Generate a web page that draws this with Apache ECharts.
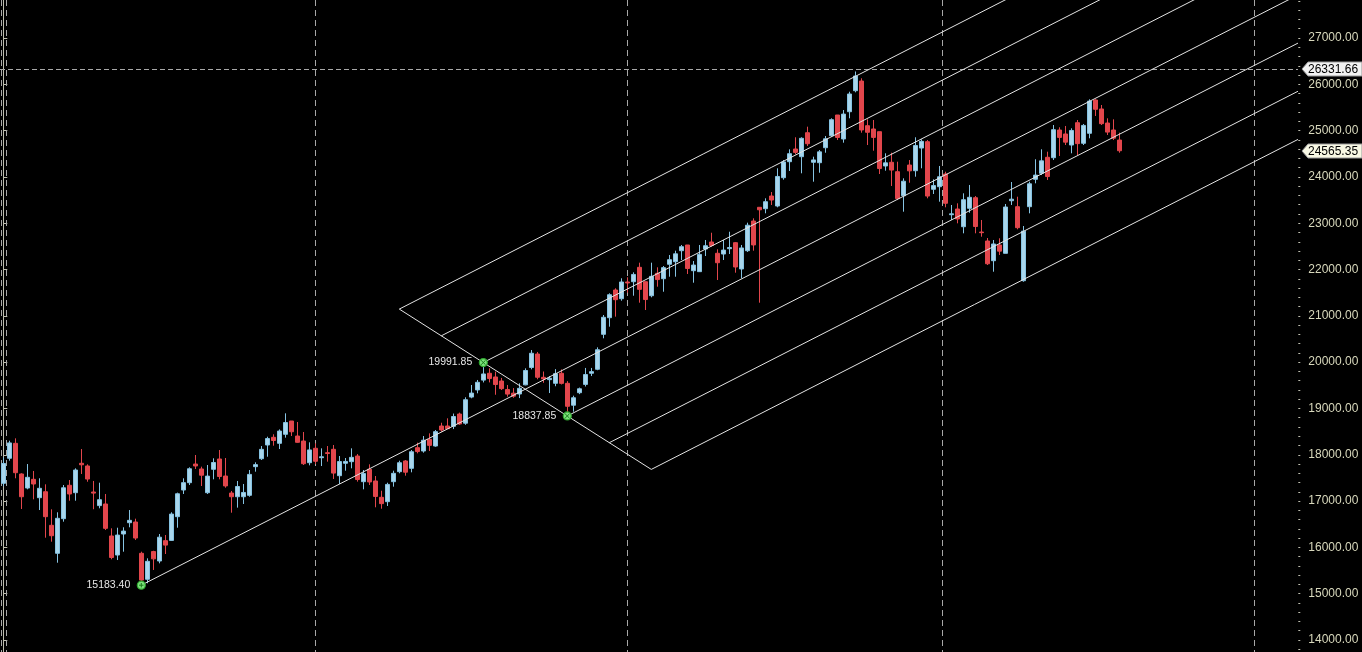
<!DOCTYPE html>
<html><head><meta charset="utf-8">
<script src="https://cdn.jsdelivr.net/npm/echarts@6/dist/echarts.min.js"></script>
<style>html,body{margin:0;padding:0;background:#000;overflow:hidden}#c{width:1362px;height:652px}</style>
</head><body><div id="c"></div>
<script>
// ---- weekly OHLC (NIFTY-like index), one entry per week starting 2022-01-07 ----
const opens = [17384,17924,18247,17585,17282,17470,17073,17202,16477,15872,16620,17341,17181,17816,17758,17196,16902,16937,16246,15835,16289,16533,16548,15872,15311,15910,15706,16145,16151,16663,17239,17397,17800,17693,17181,17686,17909,17541,17174,17094,17094,17124,17743,17915,18211,18377,18247,18442,18729,18405,18297,17829,18140,17937,18045,18118,17548,17816,17851,17973,17419,17686,17434,17081,16987,17419,17635,17866,17707,18153,18081,18333,18189,18621,18621,18614,18880,18682,19246,19400,19612,19760,19680,19593,19410,19330,19312,19510,19885,20176,19673,19622,19543,19760,19543,19070,19340,19520,19760,19846,20601,20960,21558,21370,21731,21737,22048,21737,21435,21919,21802,22113,22169,22407,22530,21975,21954,22443,22595,22351,22335,22450,22580,22012,22407,23048,23344,23314,23588,23372,23983,24329,24603,24437,24955,24316,24307,24631,24890,25337,24819,25408,25862,26071,25106,25035,24977,24236,24316,24113,23594,24257,24134,24624,24761,23733,23789,24063,23184,23307,22925,23322,23551,22810,22616,22191,22530,22350,23486,23357,21759,23357,23949,24078,24424,24415,25013,24927,24689,25171,24726,24942,25661,25467,25164,25013,24797];
const highs = [17945,18304,18355,17600,17800,17650,17492,17362,16822,16758,17347,17455,17707,18124,17794,17434,17397,17153,16412,16425,16434,16807,16620,15907,15764,15927,16289,16267,16758,17182,17492,17729,17995,17743,17779,17924,18103,17930,17218,17434,17369,17671,17837,18189,18390,18442,18548,18895,18729,18708,18492,18269,18247,18139,18189,18211,17973,17930,18139,18016,17671,17794,17541,17224,17397,17656,17872,17887,18103,18261,18405,18463,18535,18692,18787,18890,18910,19241,19507,19615,19991.85,19867,19796,19660,19507,19440,19543,19867,20262,20220,19798,19700,19849,19843,19590,19276,19451,19875,19875,20320,21018,21487,21595,21811,21833,21940,22148,21737,22148,22048,22076,22314,22407,22530,22530,22184,22530,22638,22795,22437,22638,22817,22595,22530,23012,23106,23344,23538,23674,24186,24365,24596,24856,24856,25085,24437,24581,24884,25266,25337,25445,25840,26277,26130,25244,25229,24977,24510,24523,24329,23970,24365,24856,24812,24797,23948,24236,24113,23394,23430,23646,23826,23588,23070,22681,22638,22675,23415,23890,23573,22940,23897,24381,24596,24545,25121,25072,25100,25050,25229,25143,25676,25676,25553,25266,25244,24955];
const lows = [17320,17872,17492,16829,17254,17038,16807,16209,16123,15669,16555,17008,17008,17585,17418,16824,16844,16375,15743,15727,15907,16434,16159,15183.40,15224,15512,15656,15857,16143,16425,17153,17347,17693,17325,17153,17470,17470,17289,16749,16858,16937,17094,17635,17887,17958,18196,18124,18369,18405,18261,17779,17772,17800,17757,17851,17477,17369,17656,17707,17420,17254,17347,16866,16835,16894,17311,17600,17548,17621,18031,18045,18081,18174,18498,18575,18555,18647,18647,19220,19327,19562,19563,19296,19399,19254,19230,19224,19500,19845,19630,19554,19333,19480,19518,18837.85,18930,19309,19474,19700,19826,20515,20766,20982,21327,21500,21435,21284,21126,21400,21630,21521,21845,21845,22206,21904,21716,21954,22292,22493,21774,22206,22335,21932,21811,22380,22407,21284,23214,23394,23344,23940,24128,24488,24078,24668,23897,24091,24523,24869,24797,24739,25266,25827,24955,24689,24566,24063,24135,23804,23500,23249,23875,24005,24186,23538,23631,23465,23344,23070,22998,22782,23227,22782,22709,22098,21953,22314,22350,23394,22869,21737,23214,23862,24041,23934,24365,24452,24689,24510,24473,24689,24834,25316,25121,24905,24797,24523];
const closes = [17812,18256,17613,17094,17513,17369,17276,16663,16252,16628,17287,17153,17671,17784,17476,17172,17030,16411,15782,16266,16352,16584,16202,15294,15699,15752,16220,16049,16719,17158,17398,17698,17758,17559,17539,17833,17531,17327,17094,17315,17186,17576,17787,18117,18350,18308,18512,18696,18497,18269,17807,18105,17860,17956,18027,17604,17854,17856,17944,17465,17594,17413,17100,16945,17360,17599,17828,17624,18065,18069,18315,18203,18499,18534,18563,18826,18665,19189,19332,19565,19745,19646,19517,19428,19310,19266,19435,19820,20192,19674,19638,19653,19751,19542,19047,19231,19425,19732,19795,20268,20969,21456,21349,21731,21710,21894,21572,21352,21853,21783,22041,22213,22339,22493,22023,22097,22327,22514,22519,22147,22420,22476,22055,22466,22957,22531,23290,23465,23501,24010,24324,24502,24530,24834,24717,24367,24541,24823,25236,24852,25357,25791,26179,25014,24964,24854,24181,24304,24148,23532,23907,24131,24678,24768,23587,23813,24004,23431,23203,23092,23508,23560,22929,22796,22125,22552,22397,23350,23519,22904,22829,23851,24039,24347,24008,25020,24853,24751,25003,24719,25112,25637,25461,25150,24968,24837,24565.35];

const yLabelValues = [14000,15000,16000,17000,18000,19000,20000,21000,22000,23000,24000,25000,26000,27000];
const pivotIdx = [23, 80, 94];
const pivotVal = [15183.40, 19991.85, 18837.85];
const pivotLabels = ['15183.40', '19991.85', '18837.85'];
const hLineValue = 26331.66;
const priceTags = [26331.66, 24565.35];
const yearLineIdx = [0.45, 52.03, 103.97, 156.37, 208.47];

// ---- layout constants ----
const SLOTS = 216;
const X_END = 215.78;
const Y_MIN = 13740.9, Y_MAX = 27820.6;

const cats = [];
const d0 = new Date(Date.UTC(2022, 0, 7));
for (let i = 0; i < SLOTS; i++) {
  const d = new Date(d0.getTime() + i * 7 * 864e5);
  cats.push(d.toISOString().slice(0, 10));
}
const minorTicks = [];
for (let v = 13800; v <= 27800; v += 200) minorTicks.push(v);

const candleData = opens.map((o, i) => [o, closes[i], lows[i], highs[i]]);

const FONT = 'Liberation Sans, Arial, sans-serif';

function renderGrid(params, api) {
  const cs = params.coordSys;
  const ch = [];
  const vline = (x) => ({ type: 'line', silent: true,
    shape: { x1: x, y1: cs.y, x2: x, y2: cs.y + cs.height },
    style: { stroke: '#a8a8a8', lineWidth: 1, lineDash: [6, 4] } });
  ch.push(vline(1.5));
  yearLineIdx.forEach(ix => ch.push(vline(Math.round(api.coord([ix, Y_MIN])[0]) + 0.5)));
  const y = Math.round(api.coord([0, hLineValue])[1]) + 0.5;
  const xr = api.coord([X_END, hLineValue])[0];
  ch.push({ type: 'line', silent: true, shape: { x1: 0, y1: y, x2: xr, y2: y },
    style: { stroke: '#a8a8a8', lineWidth: 1, lineDash: [5, 3] } });
  return { type: 'group', children: ch };
}

function renderPitchfork(params, api) {
  const [ia, ib, ic] = pivotIdx;
  const [va, vb, vc] = pivotVal;
  const mi = (ib + ic) / 2, mv = (vb + vc) / 2;
  const slope = (mv - va) / (mi - ia);
  const di = ib - mi, dv = vb - mv;
  const ch = [];
  const seg = (p, q) => ({ type: 'line', silent: true,
    shape: { x1: p[0], y1: p[1], x2: q[0], y2: q[1] },
    style: { stroke: '#e4e4e4', lineWidth: 1 } });
  ch.push(seg(api.coord([ia, va]), api.coord([X_END, va + slope * (X_END - ia)])));
  [3, 2, 1, -1, -2, -3].forEach(k => {
    const si = mi + k * di, sv = mv + k * dv;
    ch.push(seg(api.coord([si, sv]), api.coord([X_END, sv + slope * (X_END - si)])));
  });
  ch.push(seg(api.coord([mi + 3 * di, mv + 3 * dv]), api.coord([mi - 3 * di, mv - 3 * dv])));
  // pivot markers
  pivotIdx.forEach((ix, n) => {
    const p = api.coord([ix, pivotVal[n]]);
    ch.push({ type: 'circle', silent: true, shape: { cx: p[0], cy: p[1], r: 4 },
      style: { fill: '#7be07b', stroke: '#2fa82f', lineWidth: 1.2 } });
    const r = 2.2;
    if (n === 0) {
      ch.push(seg([p[0] - r, p[1]], [p[0] + r, p[1]]));
      ch.push(seg([p[0], p[1] - r], [p[0], p[1] + r]));
    } else {
      ch.push(seg([p[0] - r, p[1] - r], [p[0] + r, p[1] + r]));
      ch.push(seg([p[0] - r, p[1] + r], [p[0] + r, p[1] - r]));
    }
    ch[ch.length - 1].style.stroke = '#1c7a1c';
    ch[ch.length - 2].style.stroke = '#1c7a1c';
    ch.push({ type: 'text', silent: true,
      style: { x: p[0] - 11, y: p[1], text: pivotLabels[n], fill: '#e6e6e6',
        font: '10.5px ' + FONT, align: 'right', verticalAlign: 'middle' } });
  });
  return { type: 'group', children: ch };
}

function renderTags(params, api) {
  const ch = [];
  priceTags.forEach((v, n) => {
    const y = Math.round(api.coord([0, v])[1]);
    const x0 = 1302, h = 7;
    ch.push({ type: 'polygon', silent: true,
      shape: { points: [[x0, y], [x0 + 6, y - h], [1362, y - h], [1362, y + h], [x0 + 6, y + h]] },
      style: { fill: n === 0 ? '#f2f2f2' : '#f8f8e4', stroke: '#9a9a9a', lineWidth: 1 } });
    ch.push({ type: 'text', silent: true,
      style: { x: 1308, y: y + 0.5, text: v.toFixed(2), fill: '#000',
        font: '12px ' + FONT, align: 'left', verticalAlign: 'middle' } });
  });
  return { type: 'group', children: ch };
}

const chart = echarts.init(document.getElementById('c'), null, { renderer: 'canvas' });
chart.setOption({
  backgroundColor: '#000',
  animation: false,
  grid: { left: 0.3, top: 0, width: 1296, bottom: 0, containLabel: false },
  xAxis: [
    { type: 'category', data: cats, boundaryGap: true, show: false },
    { type: 'value', min: -0.5, max: SLOTS - 0.5, show: false }
  ],
  yAxis: [
    { type: 'value', position: 'right', offset: 2, min: Y_MIN, max: Y_MAX, scale: true,
      axisLine: { show: true, lineStyle: { color: '#bdbdae', width: 1 } },
      axisTick: { show: true, length: 4, customValues: yLabelValues, lineStyle: { color: '#bdbdae' } },
      axisLabel: { show: true, customValues: yLabelValues, margin: 10, color: '#d8d8bc',
        fontFamily: FONT, fontSize: 12, padding: [4, 0, 0, 0], formatter: v => Number(v).toFixed(2) },
      splitLine: { show: false } },
    { type: 'value', position: 'right', offset: 2, min: Y_MIN, max: Y_MAX, scale: true,
      axisLine: { show: false },
      axisTick: { show: true, length: 2, customValues: minorTicks, lineStyle: { color: '#bdbdae' } },
      axisLabel: { show: false },
      splitLine: { show: false } }
  ],
  series: [
    { type: 'custom', name: 'grid', xAxisIndex: 1, yAxisIndex: 0, data: [[0, Y_MIN]],
      renderItem: renderGrid, clip: false, z: 1, silent: true },
    { type: 'candlestick', name: 'price', xAxisIndex: 0, yAxisIndex: 0, data: candleData,
      barWidth: 4, z: 2,
      itemStyle: { color: '#a9d6ec', color0: '#e2464c', borderColor: '#86c3e2',
        borderColor0: '#e2464c', borderWidth: 1 } },
    { type: 'custom', name: 'pitchfork', xAxisIndex: 1, yAxisIndex: 0, data: [[0, Y_MIN]],
      renderItem: renderPitchfork, clip: false, z: 3, silent: true },
    { type: 'custom', name: 'tags', xAxisIndex: 1, yAxisIndex: 0, data: [[0, Y_MIN]],
      renderItem: renderTags, clip: false, z: 4, silent: true }
  ]
});
</script>
</body></html>
